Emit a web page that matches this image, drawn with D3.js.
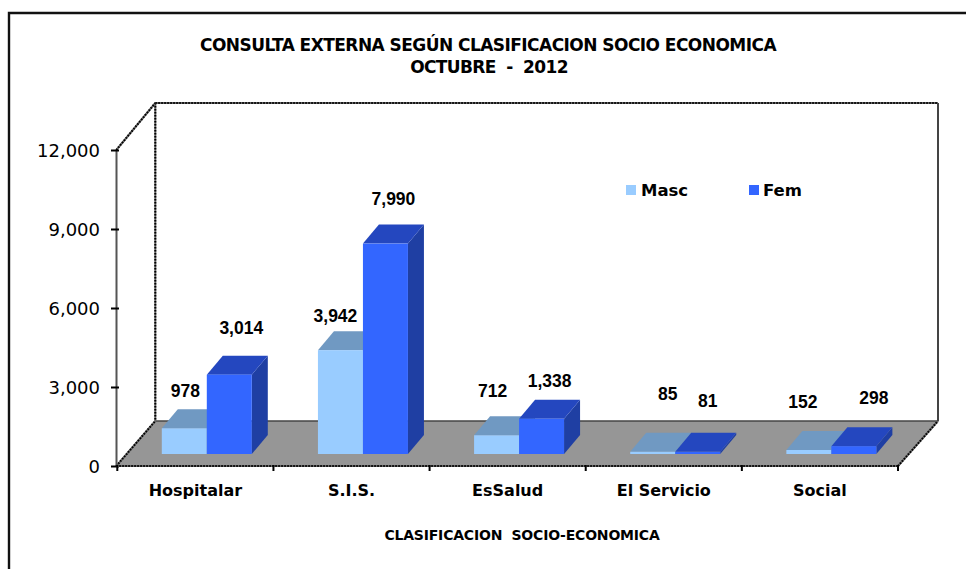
<!DOCTYPE html>
<html>
<head>
<meta charset="utf-8">
<script src="https://cdn.jsdelivr.net/npm/d3@7"></script>
<style>
  html, body { margin: 0; padding: 0; background: #fff; }
  svg { display: block; }
  .verdana { font-family: "DejaVu Sans", sans-serif; }
  .arial { font-family: "Liberation Sans", sans-serif; font-weight: bold; }
</style>
</head>
<body>
<svg width="966" height="569"></svg>
<script>
var categories = ["Hospitalar", "S.I.S.", "EsSalud", "El Servicio", "Social"];
var seriesNames = ["Masc", "Fem"];
var mascValues = [978, 3942, 712, 85, 152];
var femValues = [3014, 7990, 1338, 81, 298];
var yTicks = [0, 3000, 6000, 9000, 12000];

// where the original put each data label, relative to the top of its bar
var mascLabelNudge = [[1, -37], [-5, -34], [-4, -44], [15, -58], [-6, -48]];
var femLabelNudge = [[12, -47], [8, -45], [8, -38], [10, -51], [20, -48]];

var colors = {
    Masc: { front: "#99ccff", top: "#7099c2", side: "#6f97bf" },
    Fem: { front: "#3366ff", top: "#2447bf", side: "#1f3fa3" }
};

var svg = d3.select("svg");

var y = d3.scaleLinear().domain([0, 12000]).range([466, 150]);
var x = d3.scaleBand().domain(categories).range([117.3, 898]);
var xBar = d3.scaleBand().domain(seriesNames).range([44.5, 134.5]);

// 3d offsets of the floor and the bars
var floorDx = 39, floorDy = -45, wallTop = 103;
var baseLift = 12, barDx = 16, barDy = -19;

function poly(points) {
    return points.map(p => p.join(",")).join(" ");
}

function dottedLine(g, x1, y1, x2, y2) {
    [["#666", null, 2], ["#000", "1.5,1.5", 2]].forEach(function(s) {
        g.append("line")
            .attr("x1", x1).attr("y1", y1).attr("x2", x2).attr("y2", y2)
            .style("stroke", s[0])
            .style("stroke-width", s[2])
            .style("stroke-dasharray", s[1]);
    });
}

// outer border, runs off the right and bottom of the picture
svg.append("path")
    .attr("d", "M9,569V13H966")
    .style("fill", "none")
    .style("stroke", "#111")
    .style("stroke-width", 2.4);

// titles
var titleG = svg.append("g").attr("class", "verdana").attr("text-anchor", "middle")
    .style("font-weight", "bold").style("font-size", "17px");
titleG.append("text").attr("x", 488).attr("y", 51).style("letter-spacing", "-0.55px")
    .text("CONSULTA EXTERNA SEGÚN CLASIFICACION SOCIO ECONOMICA");
titleG.append("text").attr("x", 489).attr("y", 72.5).style("letter-spacing", "-0.65px").style("white-space", "pre")
    .text("OCTUBRE  -  2012");

// walls and floor
var x0 = x.range()[0], x1 = x.range()[1];
var wallLeft = x0 + floorDx - 1, wallRight = x1 + floorDx + 1, floorBack = y(0) + floorDy;
var wallG = svg.append("g");
wallG.append("polygon")
    .attr("points", poly([[x0 - 1, y(0)], [x1, y(0)], [wallRight, floorBack], [wallLeft, floorBack]]))
    .style("fill", "#969696");
wallG.append("line")
    .attr("x1", wallLeft).attr("y1", floorBack)
    .attr("x2", wallRight).attr("y2", floorBack)
    .style("stroke", "#444").style("stroke-width", 1.5);
dottedLine(wallG, wallLeft, wallTop, wallRight, wallTop);
dottedLine(wallG, wallLeft, wallTop, wallLeft, floorBack);
wallG.append("line")
    .attr("x1", wallRight).attr("y1", wallTop)
    .attr("x2", wallRight).attr("y2", floorBack)
    .style("stroke", "#444").style("stroke-width", 2);
dottedLine(wallG, x0 - 1, y(12000), wallLeft, wallTop);
dottedLine(wallG, x0 - 1, y(0), wallLeft, floorBack);
dottedLine(wallG, x1, y(0), wallRight, floorBack);

// bars, masc first so the fem bar sits over its side
var rows = [];
categories.forEach(function(c, i) {
    rows.push({ cat: c, series: "Masc", value: mascValues[i], nudge: mascLabelNudge[i] });
    rows.push({ cat: c, series: "Fem", value: femValues[i], nudge: femLabelNudge[i] });
});

function barLeft(d) { return x(d.cat) + xBar(d.series); }
function barTop(d) { return y(d.value) - baseLift; }
var baseY = y(0) - baseLift;

var bars = svg.append("g").selectAll("g").data(rows).enter().append("g");

bars.append("polygon")
    .attr("points", d => poly([
        [barLeft(d) + xBar.bandwidth(), barTop(d)],
        [barLeft(d) + xBar.bandwidth() + barDx, barTop(d) + barDy],
        [barLeft(d) + xBar.bandwidth() + barDx, baseY + barDy],
        [barLeft(d) + xBar.bandwidth(), baseY]
    ]))
    .style("fill", d => colors[d.series].side);

bars.append("polygon")
    .attr("points", d => poly([
        [barLeft(d), barTop(d)],
        [barLeft(d) + barDx, barTop(d) + barDy],
        [barLeft(d) + xBar.bandwidth() + barDx, barTop(d) + barDy],
        [barLeft(d) + xBar.bandwidth(), barTop(d)]
    ]))
    .style("fill", d => colors[d.series].top);

bars.append("rect")
    .attr("x", barLeft)
    .attr("y", barTop)
    .attr("width", xBar.bandwidth())
    .attr("height", d => baseY - barTop(d))
    .style("fill", d => colors[d.series].front);

// data labels
svg.append("g").attr("class", "arial").selectAll("text").data(rows).enter().append("text")
    .attr("text-anchor", "middle")
    .attr("dy", "0.35em")
    .attr("x", d => barLeft(d) + xBar.bandwidth() / 2 + d.nudge[0])
    .attr("y", d => barTop(d) + d.nudge[1])
    .style("font-size", "17.5px")
    .style("fill", "#000")
    .text(d => d3.format(",")(d.value));

// y axis
var yAxis = svg.append("g")
    .attr("transform", "translate(116,0)")
    .call(d3.axisLeft(y).tickValues(yTicks).tickFormat(d3.format(",")).tickSize(0).tickPadding(16));
yAxis.attr("font-family", null).attr("class", "verdana");
yAxis.select(".domain").style("stroke", "#555").style("stroke-width", 2);
yAxis.selectAll("text").style("font-size", "18px").style("fill", "#000").attr("dy", "0.38em");
yAxis.selectAll(".tick").append("line")
    .attr("x1", -5).attr("x2", 3)
    .style("stroke", "#000").style("stroke-width", 2);

// x axis, ticks sit between the categories
var xAxis = svg.append("g")
    .attr("transform", "translate(0,466)")
    .call(d3.axisBottom(x).tickSize(0).tickPadding(19));
xAxis.attr("font-family", null).attr("class", "verdana");
xAxis.select(".domain").remove();
xAxis.selectAll("text").style("font-size", "16px").style("font-weight", "bold").style("fill", "#000");
dottedLine(xAxis, x0 - 1, 0, x1, 0);
xAxis.selectAll("line.sep").data(categories.concat("")).enter().append("line")
    .attr("class", "sep")
    .attr("x1", (d, i) => x0 + i * x.step())
    .attr("x2", (d, i) => x0 + i * x.step())
    .attr("y1", -1).attr("y2", 5)
    .style("stroke", "#000").style("stroke-width", 2);

svg.append("text")
    .attr("class", "verdana")
    .attr("x", 522).attr("y", 540)
    .attr("text-anchor", "middle")
    .style("font-size", "14px").style("font-weight", "bold").style("white-space", "pre")
    .style("letter-spacing", "-0.2px")
    .text("CLASIFICACION  SOCIO-ECONOMICA");

// legend
var legendX = d3.scaleOrdinal().domain(seriesNames).range([626, 749]);
var legend = svg.append("g").attr("class", "verdana").selectAll("g").data(seriesNames).enter().append("g")
    .attr("transform", d => "translate(" + legendX(d) + ",185)");
legend.append("rect").attr("width", 10).attr("height", 10).style("fill", d => colors[d].front);
legend.append("text").attr("x", d => d == "Masc" ? 15 : 14).attr("y", 11)
    .style("font-size", "16.5px").style("font-weight", "bold").text(d => d);
</script>
</body>
</html>
